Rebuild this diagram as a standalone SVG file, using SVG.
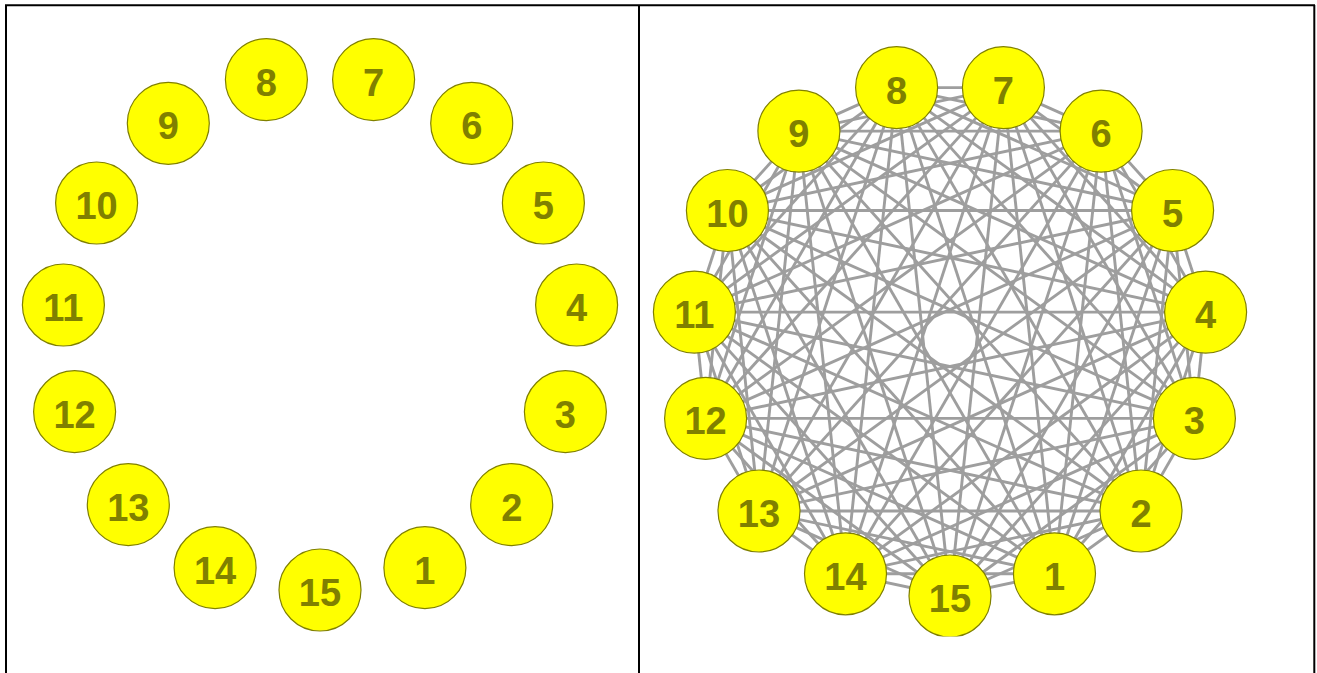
<svg xmlns="http://www.w3.org/2000/svg" width="1317" height="673" viewBox="0 0 1317 673">
<style>
.frame{stroke:#000;stroke-width:2;fill:none}
.node circle{fill:#ffff00;stroke:#808000;stroke-width:1.2}
.node text{fill:#808000;font-family:"Liberation Sans",Arial,sans-serif;font-weight:bold;font-size:38px;text-anchor:middle}
#edges line{stroke:#9e9e9e;stroke-width:2.9}
</style>
<defs>
<clipPath id="rclip"><rect x="640" y="0" width="673" height="636.5"/></clipPath>
</defs>
<rect width="1317" height="673" fill="#fff"/>
<g id="frame" class="frame">
<line x1="5" y1="5.3" x2="1315" y2="5.3"/>
<line x1="6" y1="5" x2="6" y2="673"/>
<line x1="639" y1="5" x2="639" y2="673"/>
<line x1="1314.3" y1="5" x2="1314.3" y2="673"/>
</g>
<g id="left-panel">
<g id="L1" class="node"><circle cx="424.9" cy="567.7" r="41"/><text x="424.9" y="583.7">1</text></g>
<g id="L2" class="node"><circle cx="511.7" cy="504.6" r="41"/><text x="511.7" y="520.6">2</text></g>
<g id="L3" class="node"><circle cx="565.4" cy="411.7" r="41"/><text x="565.4" y="427.7">3</text></g>
<g id="L4" class="node"><circle cx="576.6" cy="305.0" r="41"/><text x="576.6" y="321.0">4</text></g>
<g id="L5" class="node"><circle cx="543.4" cy="203.0" r="41"/><text x="543.4" y="219.0">5</text></g>
<g id="L6" class="node"><circle cx="471.7" cy="123.3" r="41"/><text x="471.7" y="139.3">6</text></g>
<g id="L7" class="node"><circle cx="373.6" cy="79.6" r="41"/><text x="373.6" y="95.6">7</text></g>
<g id="L8" class="node"><circle cx="266.4" cy="79.6" r="41"/><text x="266.4" y="95.6">8</text></g>
<g id="L9" class="node"><circle cx="168.3" cy="123.3" r="41"/><text x="168.3" y="139.3">9</text></g>
<g id="L10" class="node"><circle cx="96.6" cy="203.0" r="41"/><text x="96.6" y="219.0">10</text></g>
<g id="L11" class="node"><circle cx="63.4" cy="305.0" r="41"/><text x="63.4" y="321.0">11</text></g>
<g id="L12" class="node"><circle cx="74.6" cy="411.7" r="41"/><text x="74.6" y="427.7">12</text></g>
<g id="L13" class="node"><circle cx="128.3" cy="504.6" r="41"/><text x="128.3" y="520.6">13</text></g>
<g id="L14" class="node"><circle cx="215.1" cy="567.7" r="41"/><text x="215.1" y="583.7">14</text></g>
<g id="L15" class="node"><circle cx="320" cy="590" r="41"/><text x="320" y="606">15</text></g>
</g>
<g id="right-panel" clip-path="url(#rclip)">
<g id="edges">
<line x1="1054.5" y1="573.8" x2="1141.0" y2="511.0"/>
<line x1="1054.5" y1="573.8" x2="1194.4" y2="418.4"/>
<line x1="1054.5" y1="573.8" x2="1205.6" y2="312.1"/>
<line x1="1054.5" y1="573.8" x2="1172.6" y2="210.5"/>
<line x1="1054.5" y1="573.8" x2="1101.1" y2="131.1"/>
<line x1="1054.5" y1="573.8" x2="1003.4" y2="87.6"/>
<line x1="1054.5" y1="573.8" x2="896.6" y2="87.6"/>
<line x1="1054.5" y1="573.8" x2="798.9" y2="131.1"/>
<line x1="1054.5" y1="573.8" x2="727.4" y2="210.5"/>
<line x1="1054.5" y1="573.8" x2="694.4" y2="312.1"/>
<line x1="1054.5" y1="573.8" x2="705.6" y2="418.4"/>
<line x1="1054.5" y1="573.8" x2="759.0" y2="511.0"/>
<line x1="1054.5" y1="573.8" x2="845.5" y2="573.8"/>
<line x1="1054.5" y1="573.8" x2="950" y2="596"/>
<line x1="1141.0" y1="511.0" x2="1194.4" y2="418.4"/>
<line x1="1141.0" y1="511.0" x2="1205.6" y2="312.1"/>
<line x1="1141.0" y1="511.0" x2="1172.6" y2="210.5"/>
<line x1="1141.0" y1="511.0" x2="1101.1" y2="131.1"/>
<line x1="1141.0" y1="511.0" x2="1003.4" y2="87.6"/>
<line x1="1141.0" y1="511.0" x2="896.6" y2="87.6"/>
<line x1="1141.0" y1="511.0" x2="798.9" y2="131.1"/>
<line x1="1141.0" y1="511.0" x2="727.4" y2="210.5"/>
<line x1="1141.0" y1="511.0" x2="694.4" y2="312.1"/>
<line x1="1141.0" y1="511.0" x2="705.6" y2="418.4"/>
<line x1="1141.0" y1="511.0" x2="759.0" y2="511.0"/>
<line x1="1141.0" y1="511.0" x2="845.5" y2="573.8"/>
<line x1="1141.0" y1="511.0" x2="950" y2="596"/>
<line x1="1194.4" y1="418.4" x2="1205.6" y2="312.1"/>
<line x1="1194.4" y1="418.4" x2="1172.6" y2="210.5"/>
<line x1="1194.4" y1="418.4" x2="1101.1" y2="131.1"/>
<line x1="1194.4" y1="418.4" x2="1003.4" y2="87.6"/>
<line x1="1194.4" y1="418.4" x2="896.6" y2="87.6"/>
<line x1="1194.4" y1="418.4" x2="798.9" y2="131.1"/>
<line x1="1194.4" y1="418.4" x2="727.4" y2="210.5"/>
<line x1="1194.4" y1="418.4" x2="694.4" y2="312.1"/>
<line x1="1194.4" y1="418.4" x2="705.6" y2="418.4"/>
<line x1="1194.4" y1="418.4" x2="759.0" y2="511.0"/>
<line x1="1194.4" y1="418.4" x2="845.5" y2="573.8"/>
<line x1="1194.4" y1="418.4" x2="950" y2="596"/>
<line x1="1205.6" y1="312.1" x2="1172.6" y2="210.5"/>
<line x1="1205.6" y1="312.1" x2="1101.1" y2="131.1"/>
<line x1="1205.6" y1="312.1" x2="1003.4" y2="87.6"/>
<line x1="1205.6" y1="312.1" x2="896.6" y2="87.6"/>
<line x1="1205.6" y1="312.1" x2="798.9" y2="131.1"/>
<line x1="1205.6" y1="312.1" x2="727.4" y2="210.5"/>
<line x1="1205.6" y1="312.1" x2="694.4" y2="312.1"/>
<line x1="1205.6" y1="312.1" x2="705.6" y2="418.4"/>
<line x1="1205.6" y1="312.1" x2="759.0" y2="511.0"/>
<line x1="1205.6" y1="312.1" x2="845.5" y2="573.8"/>
<line x1="1205.6" y1="312.1" x2="950" y2="596"/>
<line x1="1172.6" y1="210.5" x2="1101.1" y2="131.1"/>
<line x1="1172.6" y1="210.5" x2="1003.4" y2="87.6"/>
<line x1="1172.6" y1="210.5" x2="896.6" y2="87.6"/>
<line x1="1172.6" y1="210.5" x2="798.9" y2="131.1"/>
<line x1="1172.6" y1="210.5" x2="727.4" y2="210.5"/>
<line x1="1172.6" y1="210.5" x2="694.4" y2="312.1"/>
<line x1="1172.6" y1="210.5" x2="705.6" y2="418.4"/>
<line x1="1172.6" y1="210.5" x2="759.0" y2="511.0"/>
<line x1="1172.6" y1="210.5" x2="845.5" y2="573.8"/>
<line x1="1172.6" y1="210.5" x2="950" y2="596"/>
<line x1="1101.1" y1="131.1" x2="1003.4" y2="87.6"/>
<line x1="1101.1" y1="131.1" x2="896.6" y2="87.6"/>
<line x1="1101.1" y1="131.1" x2="798.9" y2="131.1"/>
<line x1="1101.1" y1="131.1" x2="727.4" y2="210.5"/>
<line x1="1101.1" y1="131.1" x2="694.4" y2="312.1"/>
<line x1="1101.1" y1="131.1" x2="705.6" y2="418.4"/>
<line x1="1101.1" y1="131.1" x2="759.0" y2="511.0"/>
<line x1="1101.1" y1="131.1" x2="845.5" y2="573.8"/>
<line x1="1101.1" y1="131.1" x2="950" y2="596"/>
<line x1="1003.4" y1="87.6" x2="896.6" y2="87.6"/>
<line x1="1003.4" y1="87.6" x2="798.9" y2="131.1"/>
<line x1="1003.4" y1="87.6" x2="727.4" y2="210.5"/>
<line x1="1003.4" y1="87.6" x2="694.4" y2="312.1"/>
<line x1="1003.4" y1="87.6" x2="705.6" y2="418.4"/>
<line x1="1003.4" y1="87.6" x2="759.0" y2="511.0"/>
<line x1="1003.4" y1="87.6" x2="845.5" y2="573.8"/>
<line x1="1003.4" y1="87.6" x2="950" y2="596"/>
<line x1="896.6" y1="87.6" x2="798.9" y2="131.1"/>
<line x1="896.6" y1="87.6" x2="727.4" y2="210.5"/>
<line x1="896.6" y1="87.6" x2="694.4" y2="312.1"/>
<line x1="896.6" y1="87.6" x2="705.6" y2="418.4"/>
<line x1="896.6" y1="87.6" x2="759.0" y2="511.0"/>
<line x1="896.6" y1="87.6" x2="845.5" y2="573.8"/>
<line x1="896.6" y1="87.6" x2="950" y2="596"/>
<line x1="798.9" y1="131.1" x2="727.4" y2="210.5"/>
<line x1="798.9" y1="131.1" x2="694.4" y2="312.1"/>
<line x1="798.9" y1="131.1" x2="705.6" y2="418.4"/>
<line x1="798.9" y1="131.1" x2="759.0" y2="511.0"/>
<line x1="798.9" y1="131.1" x2="845.5" y2="573.8"/>
<line x1="798.9" y1="131.1" x2="950" y2="596"/>
<line x1="727.4" y1="210.5" x2="694.4" y2="312.1"/>
<line x1="727.4" y1="210.5" x2="705.6" y2="418.4"/>
<line x1="727.4" y1="210.5" x2="759.0" y2="511.0"/>
<line x1="727.4" y1="210.5" x2="845.5" y2="573.8"/>
<line x1="727.4" y1="210.5" x2="950" y2="596"/>
<line x1="694.4" y1="312.1" x2="705.6" y2="418.4"/>
<line x1="694.4" y1="312.1" x2="759.0" y2="511.0"/>
<line x1="694.4" y1="312.1" x2="845.5" y2="573.8"/>
<line x1="694.4" y1="312.1" x2="950" y2="596"/>
<line x1="705.6" y1="418.4" x2="759.0" y2="511.0"/>
<line x1="705.6" y1="418.4" x2="845.5" y2="573.8"/>
<line x1="705.6" y1="418.4" x2="950" y2="596"/>
<line x1="759.0" y1="511.0" x2="845.5" y2="573.8"/>
<line x1="759.0" y1="511.0" x2="950" y2="596"/>
<line x1="845.5" y1="573.8" x2="950" y2="596"/>
</g>
<g id="R1" class="node"><circle cx="1054.5" cy="573.8" r="41"/><text x="1054.5" y="589.8">1</text></g>
<g id="R2" class="node"><circle cx="1141.0" cy="511.0" r="41"/><text x="1141.0" y="527.0">2</text></g>
<g id="R3" class="node"><circle cx="1194.4" cy="418.4" r="41"/><text x="1194.4" y="434.4">3</text></g>
<g id="R4" class="node"><circle cx="1205.6" cy="312.1" r="41"/><text x="1205.6" y="328.1">4</text></g>
<g id="R5" class="node"><circle cx="1172.6" cy="210.5" r="41"/><text x="1172.6" y="226.5">5</text></g>
<g id="R6" class="node"><circle cx="1101.1" cy="131.1" r="41"/><text x="1101.1" y="147.1">6</text></g>
<g id="R7" class="node"><circle cx="1003.4" cy="87.6" r="41"/><text x="1003.4" y="103.6">7</text></g>
<g id="R8" class="node"><circle cx="896.6" cy="87.6" r="41"/><text x="896.6" y="103.6">8</text></g>
<g id="R9" class="node"><circle cx="798.9" cy="131.1" r="41"/><text x="798.9" y="147.1">9</text></g>
<g id="R10" class="node"><circle cx="727.4" cy="210.5" r="41"/><text x="727.4" y="226.5">10</text></g>
<g id="R11" class="node"><circle cx="694.4" cy="312.1" r="41"/><text x="694.4" y="328.1">11</text></g>
<g id="R12" class="node"><circle cx="705.6" cy="418.4" r="41"/><text x="705.6" y="434.4">12</text></g>
<g id="R13" class="node"><circle cx="759.0" cy="511.0" r="41"/><text x="759.0" y="527.0">13</text></g>
<g id="R14" class="node"><circle cx="845.5" cy="573.8" r="41"/><text x="845.5" y="589.8">14</text></g>
<g id="R15" class="node"><circle cx="950" cy="596" r="41"/><text x="950" y="612">15</text></g>
</g>
</svg>
